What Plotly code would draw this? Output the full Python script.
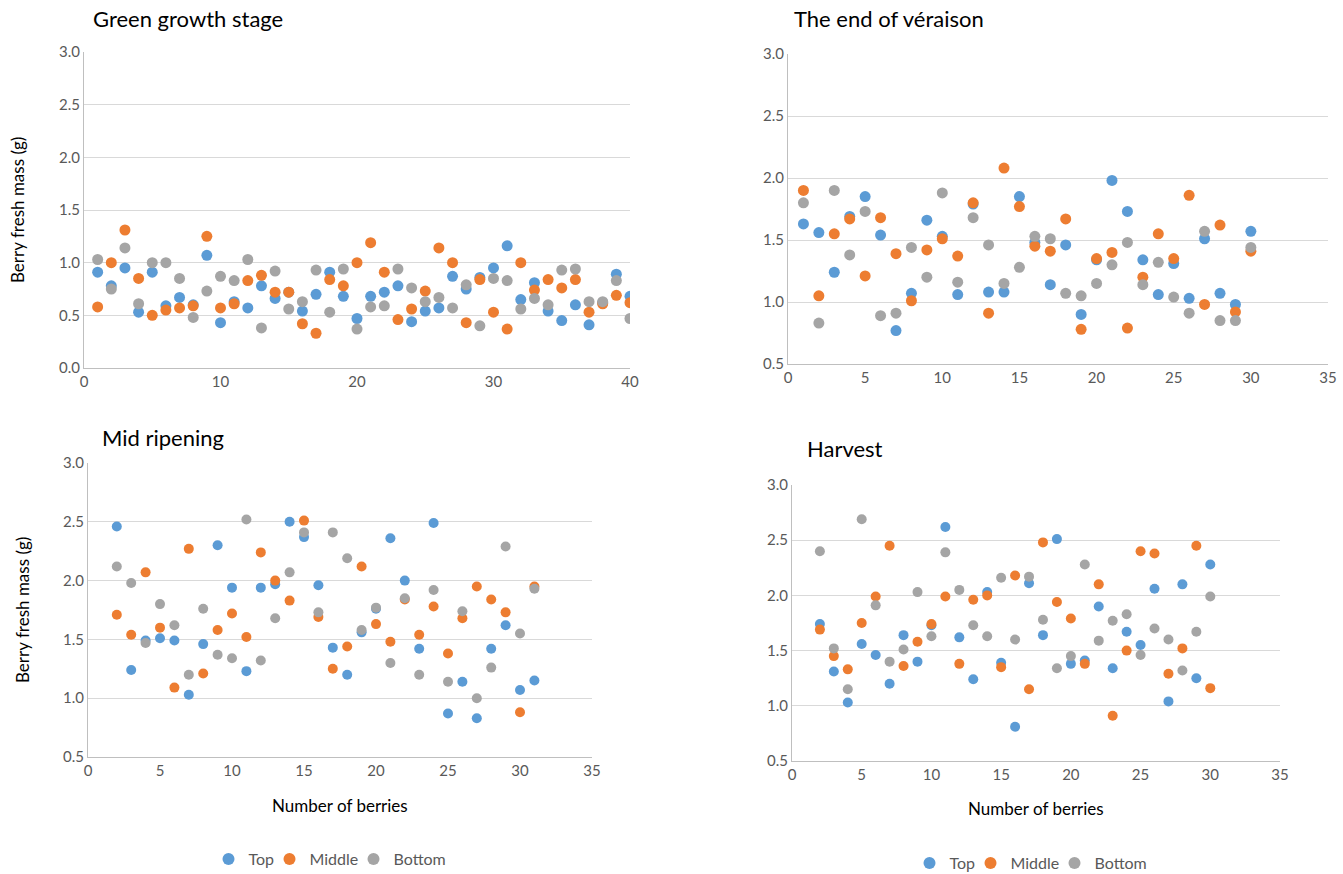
import plotly.graph_objects as go

# Berry fresh mass (g) per berry, by cluster position, at four stages
green_x = list(range(1, 41))
green_top = [0.91, 0.78, 0.95, 0.53, 0.91, 0.59, 0.67, 0.60, 1.07, 0.43, 0.63, 0.57, 0.78, 0.66, 0.72, 0.54, 0.70, 0.91, 0.68, 0.47,
             0.68, 0.72, 0.78, 0.44, 0.54, 0.57, 0.87, 0.75, 0.86, 0.95, 1.16, 0.65, 0.81, 0.54, 0.45, 0.60, 0.41, 0.62, 0.89, 0.68]
green_mid = [0.58, 1.00, 1.31, 0.85, 0.50, 0.55, 0.57, 0.59, 1.25, 0.57, 0.61, 0.83, 0.88, 0.72, 0.72, 0.42, 0.33, 0.84, 0.78, 1.00,
             1.19, 0.91, 0.46, 0.56, 0.73, 1.14, 1.00, 0.43, 0.84, 0.53, 0.37, 1.00, 0.74, 0.84, 0.76, 0.84, 0.53, 0.61, 0.69, 0.62]
green_bot = [1.03, 0.75, 1.14, 0.61, 1.00, 1.00, 0.85, 0.48, 0.73, 0.87, 0.83, 1.03, 0.38, 0.92, 0.56, 0.63, 0.93, 0.53, 0.94, 0.37,
             0.58, 0.59, 0.94, 0.76, 0.63, 0.67, 0.57, 0.79, 0.40, 0.85, 0.83, 0.56, 0.66, 0.60, 0.93, 0.94, 0.63, 0.63, 0.83, 0.47]

verais_x = list(range(1, 31))
verais_top = [1.63, 1.56, 1.24, 1.69, 1.85, 1.54, 0.77, 1.07, 1.66, 1.53, 1.06, 1.79, 1.08, 1.08, 1.85,
              1.48, 1.14, 1.46, 0.90, 1.34, 1.98, 1.73, 1.34, 1.06, 1.31, 1.03, 1.51, 1.07, 0.98, 1.57]
verais_mid = [1.90, 1.05, 1.55, 1.67, 1.21, 1.68, 1.39, 1.01, 1.42, 1.51, 1.37, 1.80, 0.91, 2.08, 1.77,
              1.45, 1.41, 1.67, 0.78, 1.35, 1.40, 0.79, 1.20, 1.55, 1.35, 1.86, 0.98, 1.62, 0.92, 1.41]
verais_bot = [1.80, 0.83, 1.90, 1.38, 1.73, 0.89, 0.91, 1.44, 1.20, 1.88, 1.16, 1.68, 1.46, 1.15, 1.28,
              1.53, 1.51, 1.07, 1.05, 1.15, 1.30, 1.48, 1.14, 1.32, 1.04, 0.91, 1.57, 0.85, 0.85, 1.44]

mid_x = list(range(2, 32))
mid_top = [2.46, 1.24, 1.49, 1.51, 1.49, 1.03, 1.46, 2.30, 1.94, 1.23, 1.94, 1.97, 2.50, 2.37, 1.96,
           1.43, 1.20, 1.56, 1.76, 2.36, 2.00, 1.42, 2.49, 0.87, 1.14, 0.83, 1.42, 1.62, 1.07, 1.15]
mid_mid = [1.71, 1.54, 2.07, 1.60, 1.09, 2.27, 1.21, 1.58, 1.72, 1.52, 2.24, 2.00, 1.83, 2.51, 1.69,
           1.25, 1.44, 2.12, 1.63, 1.48, 1.84, 1.54, 1.78, 1.38, 1.68, 1.95, 1.84, 1.73, 0.88, 1.95]
mid_bot = [2.12, 1.98, 1.47, 1.80, 1.62, 1.20, 1.76, 1.37, 1.34, 2.52, 1.32, 1.68, 2.07, 2.41, 1.73,
           2.41, 2.19, 1.58, 1.77, 1.30, 1.85, 1.20, 1.92, 1.14, 1.74, 1.00, 1.26, 2.29, 1.55, 1.93]

harv_x = list(range(2, 31))
harv_top = [1.74, 1.31, 1.03, 1.56, 1.46, 1.20, 1.64, 1.40, 1.73, 2.62, 1.62, 1.24, 2.03, 1.39, 0.81,
            2.11, 1.64, 2.51, 1.38, 1.41, 1.90, 1.34, 1.67, 1.55, 2.06, 1.04, 2.10, 1.25, 2.28]
harv_mid = [1.69, 1.45, 1.33, 1.75, 1.99, 2.45, 1.36, 1.58, 1.74, 1.99, 1.38, 1.96, 2.00, 1.35, 2.18,
            1.15, 2.48, 1.94, 1.79, 1.38, 2.10, 0.91, 1.50, 2.40, 2.38, 1.29, 1.52, 2.45, 1.16]
harv_bot = [2.40, 1.52, 1.15, 2.69, 1.91, 1.40, 1.51, 2.03, 1.63, 2.39, 2.05, 1.73, 1.63, 2.16, 1.60,
            2.17, 1.78, 1.34, 1.45, 2.28, 1.59, 1.77, 1.83, 1.46, 1.70, 1.60, 1.32, 1.67, 1.99]

series_names = ["Top", "Middle", "Bottom"]
colors = ["#5B9BD5", "#ED7D31", "#A5A5A5"]
# width reserved for each legend label (None = fit to text)
legend_widths = [16, 39, None]

W, H = 1343, 874
FONT = "Lato, 'Open Sans', sans-serif"
TICK = dict(size=15, color="#595959", family=FONT)


def fx(px):
    return px / W


def fy(py):
    return 1 - py / H


def px_x(a, b):
    return [fx(a), fx(b)]


def px_y(top, bottom):
    return [fy(bottom), fy(top)]


panels = [
    # x data, series, x-axis id, y-axis id, marker size, legend id
    (green_x, [green_top, green_mid, green_bot], "x", "y", 11, None),
    (verais_x, [verais_top, verais_mid, verais_bot], "x2", "y2", 11, None),
    (mid_x, [mid_top, mid_mid, mid_bot], "x3", "y3", 10, "legend"),
    (harv_x, [harv_top, harv_mid, harv_bot], "x4", "y4", 10, "legend2"),
]

fig = go.Figure()
for xs, ys_list, xa, ya, msize, leg in panels:
    for name, ys, col, lw in zip(series_names, ys_list, colors, legend_widths):
        fig.add_trace(go.Scatter(
            x=xs, y=ys, mode="markers", name=name,
            marker=dict(color=col, size=msize, line=dict(width=0)),
            xaxis=xa, yaxis=ya,
            showlegend=leg is not None,
            legend=leg if leg else "legend",
            legendwidth=lw,
        ))

axis_common = dict(showline=True, linecolor="#BFBFBF", linewidth=1, ticks="",
                   tickfont=TICK, zeroline=False, fixedrange=True)
yaxis_common = dict(axis_common, showgrid=True, gridcolor="#D9D9D9", gridwidth=1,
                    tickformat=".1f", dtick=0.5)
xaxis_common = dict(axis_common, showgrid=False)

legend_common = dict(orientation="h", xanchor="center", yanchor="middle",
                     font=dict(size=16, color="#595959", family=FONT),
                     itemsizing="constant", itemwidth=30, bgcolor="rgba(0,0,0,0)")

fig.update_layout(
    width=W, height=H,
    margin=dict(l=0, r=0, t=0, b=0, autoexpand=False),
    paper_bgcolor="white", plot_bgcolor="white",
    font=dict(family=FONT, color="#595959"),
    xaxis=dict(xaxis_common, domain=px_x(84, 630), range=[0, 40], dtick=10, anchor="y"),
    yaxis=dict(yaxis_common, domain=px_y(52, 368), range=[0, 3.0], anchor="x"),
    xaxis2=dict(xaxis_common, domain=px_x(788, 1328), range=[0, 35], dtick=5, anchor="y2"),
    yaxis2=dict(yaxis_common, domain=px_y(54, 364), range=[0.5, 3.0], anchor="x2"),
    xaxis3=dict(xaxis_common, domain=px_x(88, 592), range=[0, 35], dtick=5, anchor="y3"),
    yaxis3=dict(yaxis_common, domain=px_y(463, 757), range=[0.5, 3.0], anchor="x3"),
    xaxis4=dict(xaxis_common, domain=px_x(792, 1280), range=[0, 35], dtick=5, anchor="y4"),
    yaxis4=dict(yaxis_common, domain=px_y(485, 761), range=[0.5, 3.0], anchor="x4"),
    legend=dict(legend_common, x=fx(330), y=fy(859)),
    legend2=dict(legend_common, x=fx(1031), y=fy(863)),
)

titles = [
    ("Green growth stage", 91, 18),
    ("The end of véraison", 792, 18),
    ("Mid ripening", 100, 437),
    ("Harvest", 805, 448),
]
for text, xp, yp in titles:
    fig.add_annotation(text=text, x=fx(xp), y=fy(yp), xref="paper", yref="paper",
                       xanchor="left", yanchor="middle", showarrow=False,
                       font=dict(size=22, color="#000000", family=FONT))

# y-axis titles
for xp, yp in [(17, 210), (22, 610)]:
    fig.add_annotation(text="Berry fresh mass (g)", x=fx(xp), y=fy(yp), xref="paper", yref="paper",
                       xanchor="center", yanchor="middle", textangle=-90, showarrow=False,
                       font=dict(size=17, color="#000000", family=FONT))

# x-axis titles
for xp, yp in [(340, 805), (1036, 808)]:
    fig.add_annotation(text="Number of berries", x=fx(xp), y=fy(yp), xref="paper", yref="paper",
                       xanchor="center", yanchor="middle", showarrow=False,
                       font=dict(size=17, color="#000000", family=FONT))

fig.write_html("out.html")
